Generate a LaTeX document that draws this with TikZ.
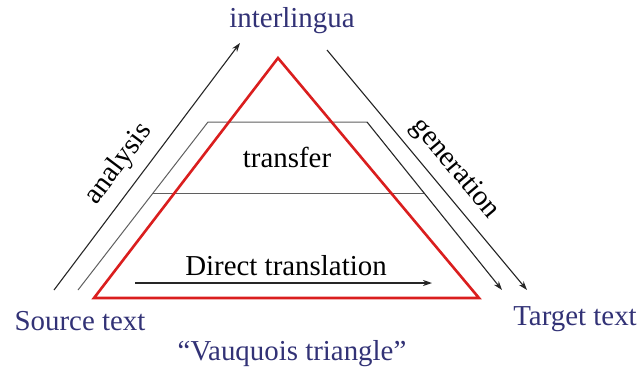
\documentclass[tikz,border=0pt]{standalone}
\usepackage{fontspec}
\setmainfont{Liberation Serif}
\usetikzlibrary{arrows.meta}
\definecolor{txtblue}{RGB}{50,50,118}
\definecolor{trired}{RGB}{218,30,30}
\definecolor{lgray}{RGB}{95,95,95}
\begin{document}
\begin{tikzpicture}[x=1bp,y=-1bp,
  lbl/.style={inner sep=0pt,font=\fontsize{29}{32}\selectfont},
  bluelbl/.style={lbl,text=txtblue},
  arr/.style={draw=black!85,line width=1.1bp,-{Stealth[length=9bp,width=6bp]}},
  thin/.style={draw=lgray,line width=1bp},
  tri/.style={draw=trired,line width=2.6bp,line join=miter}]
\useasboundingbox (0,0) rectangle (641,385);
% coordinates
\coordinate (A) at (278,58);
\coordinate (B) at (94,298);
\coordinate (C) at (479,298);
\coordinate (T1) at (208,122);
\coordinate (T2) at (367,122);
\coordinate (L) at (78,290);
\coordinate (R) at (502,290);
\coordinate (M1) at (153,193);
\coordinate (M2) at (424,193);
\coordinate (an1) at (54,290);
\coordinate (an2) at (240,43);
\coordinate (ge1) at (327,50);
\coordinate (ge2) at (527,290);
\coordinate (d1) at (135,283);
\coordinate (d2) at (432,283);
% transfer trapezoid
\draw[thin] (L) -- (T1) -- (T2);
\draw[thin] (M1) -- (M2);
\draw[arr] (T2) -- (R);
% side arrows
\draw[arr] (an1) -- (an2);
\draw[arr] (ge1) -- (ge2);
\draw[arr] (d1) -- (d2);
% red triangle
\draw[tri] (A) -- (B) -- (C) -- cycle;
% labels
\node[bluelbl,anchor=base] (inter) at (292,27) {interlingua};
\node[lbl,anchor=base] (transfer) at (287,167) {transfer};
\node[lbl,anchor=base] (direct) at (286,275) {Direct translation};
\node[bluelbl,anchor=base] (src) at (80,330) {Source text};
\node[bluelbl,anchor=base] (tgt) at (575,325) {Target text};
\node[bluelbl,anchor=base] (vq) at (292,360) {“Vauquois triangle”};
\node[lbl,rotate=53] (ana) at (119,164) {analysis};
\node[lbl,rotate=-50] (gen) at (455,169) {generation};
\end{tikzpicture}
\end{document}
